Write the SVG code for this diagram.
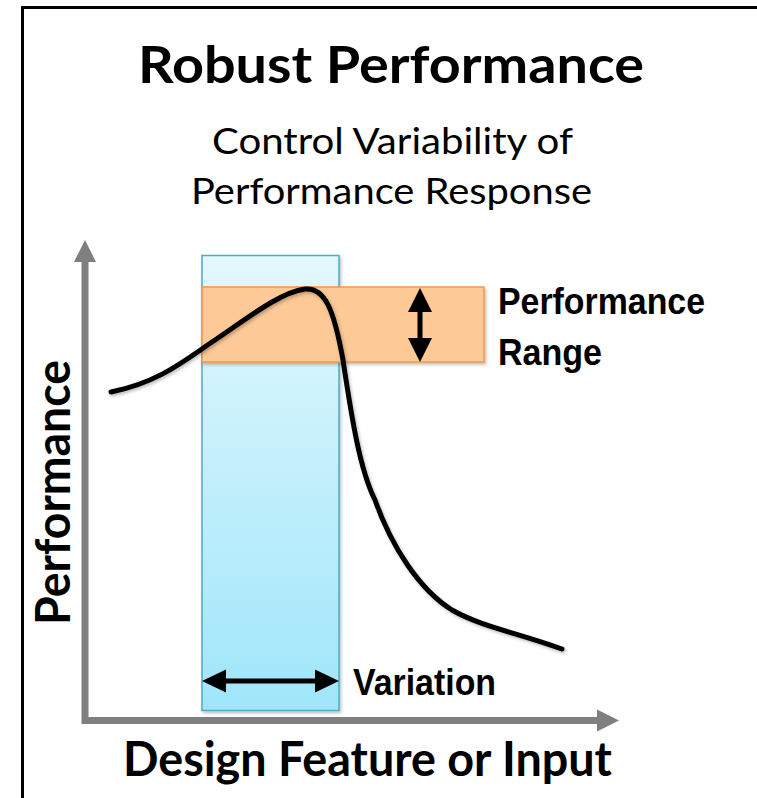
<svg xmlns="http://www.w3.org/2000/svg" width="757" height="798" viewBox="0 0 757 798">
  <defs>
    <linearGradient id="bandBlue" x1="0" y1="0" x2="0" y2="1">
      <stop offset="0" stop-color="#e3f8fd"/>
      <stop offset="1" stop-color="#9fe6fa"/>
    </linearGradient>
    <filter id="soft" x="-10%" y="-10%" width="130%" height="130%">
      <feDropShadow dx="1.5" dy="2" stdDeviation="1.5" flood-color="#000" flood-opacity="0.25"/>
    </filter>
    <style>
      .frame { fill: none; stroke: #000; stroke-width: 3; }
      .axis { fill: none; stroke: #7f7f7f; stroke-width: 7; }
      .axis-head { fill: #7f7f7f; }
      .curve { fill: none; stroke: #000; stroke-width: 5; stroke-linecap: round; stroke-linejoin: round; }
      .dbl { stroke: #000; stroke-width: 5; }
      .dbl-head { fill: #000; }
      .title { font-family: Lato, "Open Sans", sans-serif; font-weight: 700; font-size: 51px; fill: #000; text-anchor: middle; }
      .sub { font-family: Lato, "Open Sans", sans-serif; font-weight: 400; font-size: 36px; fill: #000; text-anchor: middle; }
      .axis-label { font-family: Lato, "Open Sans", sans-serif; font-weight: 700; font-size: 47px; fill: #000; text-anchor: middle; }
      .note { font-family: "Liberation Sans", Arial, sans-serif; font-weight: 700; font-size: 36px; fill: #000; }
    </style>
  </defs>

  <rect x="0" y="0" width="757" height="798" fill="#fff"/>

  <!-- outer frame (left and top edges) -->
  <path class="frame" d="M22.5,798 V7.5 H757"/>

  <!-- headings -->
  <g id="title">
    <text class="title" x="391" y="83" textLength="506" lengthAdjust="spacingAndGlyphs">Robust Performance</text>
  </g>
  <g id="subtitle">
    <text class="sub" x="392.5" y="154" textLength="361" lengthAdjust="spacingAndGlyphs">Control Variability of</text>
    <text class="sub" x="391.5" y="204" textLength="401" lengthAdjust="spacingAndGlyphs">Performance Response</text>
  </g>

  <!-- input variation band -->
  <g id="variation-band">
    <rect x="202" y="255.5" width="137" height="455" fill="url(#bandBlue)" stroke="#4bacc6" stroke-width="1.5" filter="url(#soft)"/>
  </g>

  <!-- performance range band -->
  <g id="performance-band">
    <rect x="202" y="287" width="282" height="75" fill="#fcc997" stroke="#f79646" stroke-width="1.5" filter="url(#soft)"/>
  </g>

  <!-- axes -->
  <g id="axes">
    <path class="axis" d="M85,262 V720.5 H598"/>
    <polygon class="axis-head" points="85,240 74,262 96,262"/>
    <polygon class="axis-head" points="619,720.5 597,709.5 597,731.5"/>
  </g>

  <!-- performance response curve -->
  <g id="response-curve">
    <path class="curve" filter="url(#soft)" d="M111,392 C160,382 185,360 215,340 C245,320 280,292 305,289 C325,287 334,310 343,360 C352,420 360,470 375,500 C392,548 420,590 452,610 C482,627 515,632 562,649"/>
  </g>

  <!-- range and variation indicators -->
  <g id="connectors">
    <line class="dbl" x1="420" y1="306" x2="420" y2="344"/>
    <polygon class="dbl-head" points="420,288 408,312 432,312"/>
    <polygon class="dbl-head" points="420,362 408,338 432,338"/>
    <line class="dbl" x1="220" y1="681" x2="321" y2="681"/>
    <polygon class="dbl-head" points="202,681 226,669.5 226,692.5"/>
    <polygon class="dbl-head" points="339,681 315,669.5 315,692.5"/>
  </g>

  <!-- labels -->
  <g id="label-range">
    <text class="note" x="498" y="314" textLength="207" lengthAdjust="spacingAndGlyphs">Performance</text>
    <text class="note" x="498" y="365" textLength="104" lengthAdjust="spacingAndGlyphs">Range</text>
  </g>
  <g id="label-variation">
    <text class="note" x="353" y="695" textLength="143" lengthAdjust="spacingAndGlyphs">Variation</text>
  </g>
  <g id="label-y">
    <text class="axis-label" transform="translate(70,492.5) rotate(-90)" textLength="265" lengthAdjust="spacingAndGlyphs">Performance</text>
  </g>
  <g id="label-x">
    <text class="axis-label" x="367.5" y="776" textLength="489" lengthAdjust="spacingAndGlyphs">Design Feature or Input</text>
  </g>
</svg>
